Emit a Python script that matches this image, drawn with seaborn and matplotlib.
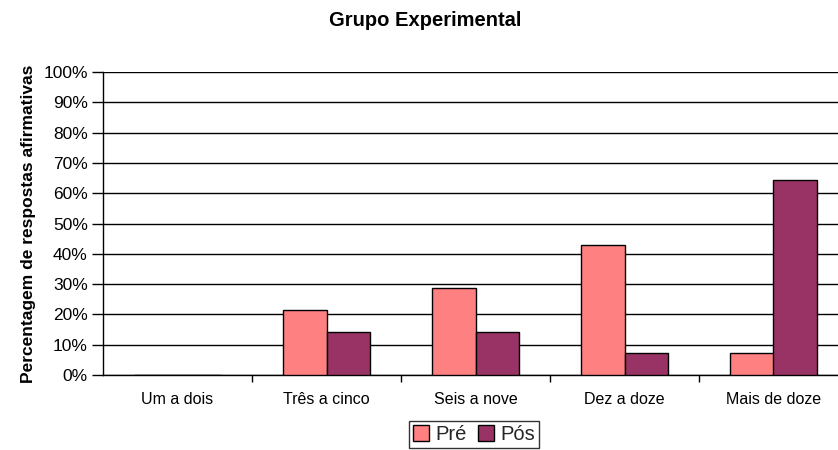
import matplotlib
matplotlib.use("Agg")
import matplotlib.pyplot as plt
from matplotlib.ticker import FixedLocator, PercentFormatter
import seaborn as sns
import pandas as pd

categories = ["Um a dois", "Três a cinco", "Seis a nove", "Dez a doze", "Mais de doze"]
pre = [0.0, 21.4, 28.6, 42.9, 7.1]
pos = [0.0, 14.3, 14.3, 7.1, 64.3]
series = ["Pré", "Pós"]
palette = {"Pré": "#FF8080", "Pós": "#993366"}

dt = pd.DataFrame({
    "grupo": categories * 2,
    "valor": pre + pos,
    "serie": [series[0]] * 5 + [series[1]] * 5,
})

sns.set_theme(style="white")
plt.rcParams["font.family"] = ["Liberation Sans", "DejaVu Sans"]

fig = plt.figure(figsize=(8.38, 4.5), dpi=100)
ax = fig.add_axes([103 / 838, 75 / 450, 745 / 838, 303 / 450])

sns.barplot(data=dt, x="grupo", y="valor", hue="serie", order=categories,
            hue_order=series, palette=palette, width=0.58, gap=0,
            edgecolor="black", linewidth=1, saturation=1, ax=ax, zorder=3)

ax.set_xlim(-0.5, 4.5)
ax.set_ylim(0, 100)
ax.set_yticks(range(0, 101, 10))
ax.yaxis.set_major_formatter(PercentFormatter(decimals=0))
ax.yaxis.grid(True, color="black", linewidth=1)
ax.set_axisbelow(True)

# ticks between the categories, not under them
ax.tick_params(axis="x", which="major", length=0, pad=12, labelsize=11.5, labelcolor="black")
ax.xaxis.set_minor_locator(FixedLocator([0.5, 1.5, 2.5, 3.5]))
ax.tick_params(axis="x", which="minor", bottom=True, length=5, width=1, color="black")
ax.tick_params(axis="y", left=True, length=8, width=1, color="black", labelsize=12.5,
               labelcolor="black", pad=3)

for s in ["top", "right"]:
    ax.spines[s].set_visible(False)
for s in ["left", "bottom"]:
    ax.spines[s].set_color("black")
    ax.spines[s].set_linewidth(1)

ax.set_xlabel("")
ax.set_ylabel("Percentagem de respostas afirmativas", fontsize=12.5,
              fontweight="bold", labelpad=5, color="black")
fig.text(425 / 838, 1 - 20 / 450, "Grupo Experimental", ha="center", va="center",
         fontsize=14.5, fontweight="bold", color="black")

handles, labels = ax.get_legend_handles_labels()
ax.legend_.remove()
fig.legend(handles, labels, loc="upper center", bbox_to_anchor=(474 / 838, 1 - 421 / 450),
           ncol=2, fontsize=14.5, frameon=True, fancybox=False, edgecolor="black",
           handlelength=0.8, handleheight=0.8, handletextpad=0.3, columnspacing=0.6,
           borderpad=0.2, borderaxespad=0)

plt.savefig("out.png", dpi=100)
